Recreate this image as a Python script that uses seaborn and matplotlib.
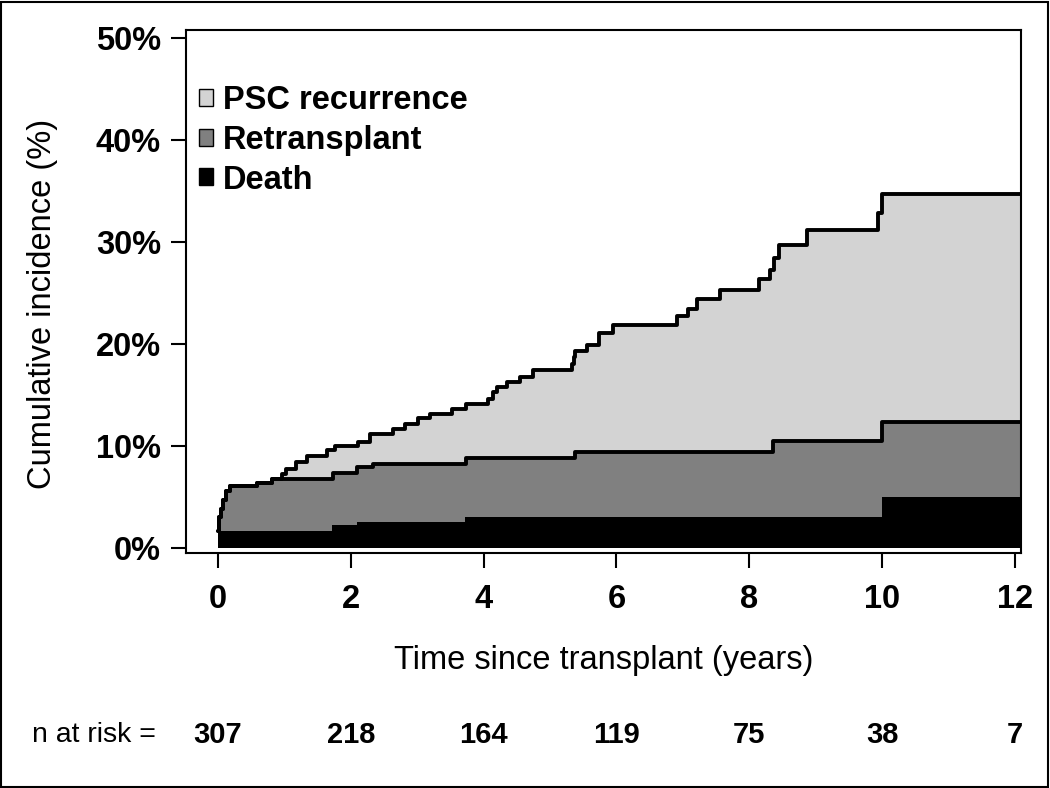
import numpy as np
import matplotlib
matplotlib.use("Agg")
import matplotlib.pyplot as plt
import seaborn as sns
from matplotlib.patches import Patch, Rectangle

# ---- data (stacked cumulative incidence, %) ----
# top of the black band (death)
death_t = [0, 1.72, 2.09, 3.72, 10.0]
death_top = [1.7, 2.3, 2.55, 3.05, 5.0]

# top of the dark grey band (death + retransplant)
retx_t = [0, 0.02, 0.05, 0.08, 0.13, 0.18, 0.59, 0.81, 1.74, 2.09, 2.33, 3.73, 5.38, 8.36, 10.0]
retx_top = [1.7, 3.0, 3.8, 4.7, 5.6, 6.1, 6.4, 6.8, 7.4, 7.9, 8.2, 8.8, 9.4, 10.5, 12.4]

# top of the light grey band (death + retransplant + PSC recurrence)
psc_t = [0, 0.02, 0.05, 0.08, 0.13, 0.18, 0.59, 0.81, 0.96, 1.03, 1.18, 1.34, 1.64,
         1.76, 2.11, 2.29, 2.63, 2.82, 3.01, 3.19, 3.52, 3.73, 4.07, 4.14, 4.20, 4.35,
         4.55, 4.75, 5.33, 5.36, 5.38, 5.55, 5.74, 5.95, 6.91, 7.08, 7.21, 7.56, 8.14,
         8.31, 8.37, 8.45, 8.87, 9.94, 10.0]
psc_top = [1.7, 3.0, 3.8, 4.7, 5.6, 6.1, 6.4, 6.8, 7.3, 7.7, 8.4, 9.0, 9.6,
           10.0, 10.4, 11.2, 11.7, 12.2, 12.7, 13.1, 13.6, 14.1, 14.6, 15.3, 15.8, 16.3,
           16.8, 17.5, 18.0, 18.7, 19.3, 19.9, 21.1, 21.9, 22.7, 23.4, 24.4, 25.3, 26.4,
           27.3, 28.4, 29.7, 31.2, 32.8, 34.7]

t_end = 12.09  # end of follow-up shown

risk_times = [0, 2, 4, 6, 8, 10, 12]
n_at_risk = [307, 218, 164, 119, 75, 38, 7]

labels = ["PSC recurrence", "Retransplant", "Death"]
colors = ["#d3d3d3", "#808080", "#000000"]

# ---- plot ----
sns.set_theme(style="ticks")
plt.rcParams['font.family'] = ['Liberation Sans', 'DejaVu Sans']
plt.rcParams['text.color'] = 'black'

fig = plt.figure(figsize=(10.5, 7.88), dpi=100)
ax = fig.add_axes([0.1771, 0.2982, 0.7953, 0.6637])


def extend(t, v):
    return np.append(t, t_end), np.append(v, v[-1])


series = [(psc_t, psc_top), (retx_t, retx_top), (death_t, death_top)]
for (t, v), col in zip(series, colors):
    tt, vv = extend(t, v)
    ax.fill_between(tt, 0, vv, step="post", color=col, linewidth=0, zorder=1)

# black outlines on top of the PSC and retransplant bands
for t, v in series[:2]:
    tt, vv = extend(t, v)
    sns.lineplot(x=tt, y=vv, drawstyle="steps-post", color="black",
                 linewidth=2.8, estimator=None, sort=False, ax=ax, zorder=3)

ax.set_xlim(-0.48, 12.09)
ax.set_ylim(-0.49, 50.78)
ax.set_xticks(risk_times)
ax.set_yticks(np.arange(0, 51, 10))
ax.set_yticklabels([f"{y}%" for y in range(0, 51, 10)])

for lab in ax.get_xticklabels() + ax.get_yticklabels():
    lab.set_fontweight("bold")
    lab.set_fontsize(23.5)
ax.tick_params(axis="x", length=11, width=1.5, pad=11, colors="black")
ax.tick_params(axis="y", length=11, width=1.5, pad=7, colors="black")
for sp in ax.spines.values():
    sp.set_visible(True)
    sp.set_linewidth(1.5)
    sp.set_color("black")
    sp.set_zorder(5)

ax.set_xlabel("Time since transplant (years)", fontsize=23.5, color="black")
ax.xaxis.set_label_coords(0.5, -0.2046)
ax.xaxis.label.set_verticalalignment("center")
ax.set_ylabel("Cumulative incidence (%)", fontsize=23.5, color="black")
ax.yaxis.set_label_coords(-0.172, 0.476)
ax.yaxis.label.set_verticalalignment("center")

handles = [Patch(facecolor=c, edgecolor="black", linewidth=1) for c in colors]
leg = ax.legend(handles, labels, loc="upper left", bbox_to_anchor=(0.0156, 0.895),
                frameon=False, borderpad=0, borderaxespad=0,
                handlelength=0.43, handleheight=0.43, handletextpad=0.3,
                labelspacing=0.27, prop={"weight": "bold", "size": 23.5})
for txt in leg.get_texts():
    txt.set_color("black")

# numbers at risk row
fig.text(32 / 1050, 1 - 735 / 788, "n at risk =", fontsize=20.5,
         ha="left", va="center", color="black")
trans = ax.get_xaxis_transform()
for x, n in zip(risk_times, n_at_risk):
    ax.text(x, -0.348, str(n), transform=trans, fontsize=21, fontweight="bold",
            ha="center", va="center", color="black", clip_on=False)

# frame around the whole figure
fig.add_artist(Rectangle((0.001, 0.001), 0.997, 0.997, transform=fig.transFigure,
                         fill=False, edgecolor="black", linewidth=1.5))

fig.savefig("out.png", dpi=100)
